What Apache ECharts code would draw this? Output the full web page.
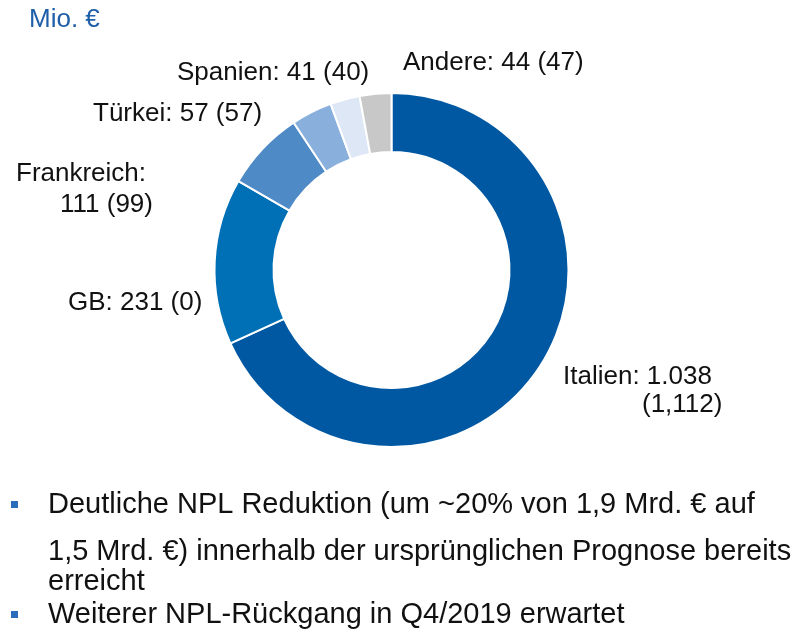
<!DOCTYPE html>
<html>
<head>
<meta charset="utf-8">
<script src="https://cdn.jsdelivr.net/npm/echarts@6/dist/echarts.min.js"></script>
<style>
  html, body { margin: 0; padding: 0; background: #fff; }
  #chart { width: 801px; height: 633px; }
</style>
</head>
<body>
<div id="chart"></div>
<script>
// Daten
const countries = ['Italien', 'GB', 'Frankreich', 'Türkei', 'Spanien', 'Andere'];
const npl = [1038, 231, 111, 57, 41, 44];
const nplText = ['1.038', '231', '111', '57', '41', '44'];
const nplPrevText = ['(1,112)', '(0)', '(99)', '(57)', '(40)', '(47)'];
const sliceColors = ['#0058a2', '#0070b6', '#4e8ac6', '#89b0dc', '#dde7f6', '#c8c8c8'];
const unitLabel = 'Mio. €';
const bullets = [
  ['Deutliche NPL Reduktion (um ~20% von 1,9 Mrd. € auf',
   '1,5 Mrd. €) innerhalb der ursprünglichen Prognose bereits',
   'erreicht'],
  ['Weiterer NPL-Rückgang in Q4/2019 erwartet']
];

const chart = echarts.init(document.getElementById('chart'));
const FONT = '"Liberation Sans", Arial, sans-serif';
const LABEL_SIZE = 26;
const TEXT_SIZE = 29;

// Label-Positionen (x links, y Grundlinie), je Zeile
const labelLines = [
  [[countries[0] + ': ' + nplText[0], 563, 386], [nplPrevText[0], 642, 414]],
  [[countries[1] + ': ' + nplText[1] + ' ' + nplPrevText[1], 68, 312]],
  [[countries[2] + ':', 16, 183], [nplText[2] + ' ' + nplPrevText[2], 60, 214]],
  [[countries[3] + ': ' + nplText[3] + ' ' + nplPrevText[3], 93, 123]],
  [[countries[4] + ': ' + nplText[4] + ' ' + nplPrevText[4], 177, 82]],
  [[countries[5] + ': ' + nplText[5] + ' ' + nplPrevText[5], 403, 72]]
];

const graphic = [];
// Einheit
graphic.push({
  type: 'text', x: 29, y: 29 - LABEL_SIZE * 0.36,
  style: { text: unitLabel, font: LABEL_SIZE + 'px ' + FONT, fill: '#1f5ea8',
           textAlign: 'left', textVerticalAlign: 'middle' }
});
// Slice-Labels
labelLines.forEach(function (lines) {
  lines.forEach(function (l) {
    graphic.push({
      type: 'text', x: l[1], y: l[2] - LABEL_SIZE * 0.36,
      style: { text: l[0], font: LABEL_SIZE + 'px ' + FONT, fill: '#111',
               textAlign: 'left', textVerticalAlign: 'middle' }
    });
  });
});
// Aufzählung unten
const lineBase = [[515, 562, 592], [625]];
bullets.forEach(function (b, i) {
  graphic.push({
    type: 'rect', shape: { x: 11, y: lineBase[i][0] - 14, width: 7, height: 7 },
    style: { fill: '#2a6ebb' }
  });
  b.forEach(function (t, j) {
    graphic.push({
      type: 'text', x: 48, y: lineBase[i][j] - TEXT_SIZE * 0.36,
      style: { text: t, font: TEXT_SIZE + 'px ' + FONT, fill: '#111',
               textAlign: 'left', textVerticalAlign: 'middle' }
    });
  });
});

const option = {
  animation: false,
  color: sliceColors,
  graphic: graphic,
  series: [
    {
      type: 'pie',
      center: [391.5, 270],
      radius: [118, 177],
      startAngle: 90,
      clockwise: true,
      silent: true,
      label: { show: false },
      labelLine: { show: false },
      itemStyle: { borderColor: '#fff', borderWidth: 2 },
      data: countries.map(function (c, i) {
        return { name: c, value: npl[i] };
      })
    }
  ]
};

chart.setOption(option);
</script>
</body>
</html>
